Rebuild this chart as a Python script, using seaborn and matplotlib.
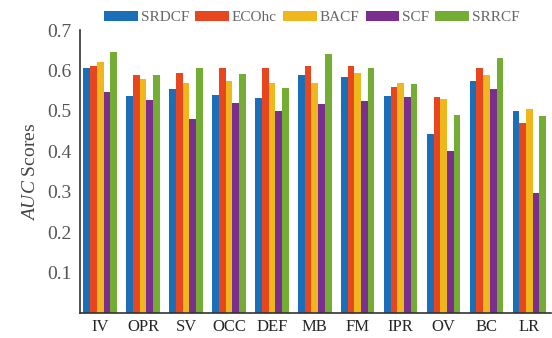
import matplotlib
matplotlib.use("Agg")
import matplotlib.pyplot as plt
import seaborn as sns
import pandas as pd
import numpy as np

# attributes on the x axis
attrs = ['IV', 'OPR', 'SV', 'OCC', 'DEF', 'MB', 'FM', 'IPR', 'OV', 'BC', 'LR']
trackers = ['SRDCF', 'ECOhc', 'BACF', 'SCF', 'SRRCF']

# AUC scores
srdcf = [0.605, 0.538, 0.553, 0.540, 0.533, 0.590, 0.585, 0.538, 0.444, 0.575, 0.500]
ecohc = [0.610, 0.590, 0.595, 0.607, 0.605, 0.610, 0.610, 0.558, 0.534, 0.607, 0.470]
bacf  = [0.620, 0.580, 0.570, 0.575, 0.568, 0.570, 0.595, 0.570, 0.530, 0.590, 0.505]
scf   = [0.546, 0.526, 0.480, 0.520, 0.500, 0.518, 0.524, 0.534, 0.400, 0.553, 0.297]
srrcf = [0.645, 0.590, 0.607, 0.592, 0.557, 0.640, 0.605, 0.567, 0.490, 0.630, 0.487]

colors = ['#1b6fb8', '#e8461e', '#f0b71c', '#7a2f8e', '#73ad34']

series = [srdcf, ecohc, bacf, scf, srrcf]
rows = []
for name, vals in zip(trackers, series):
    for a, v in zip(attrs, vals):
        rows.append({'attr': a, 'tracker': name, 'auc': v})
df = pd.DataFrame(rows)

sns.set_style('white')
plt.rcParams['font.family'] = ['Liberation Serif', 'DejaVu Serif']
plt.rcParams['mathtext.fontset'] = 'custom'
plt.rcParams['mathtext.it'] = 'Liberation Serif:italic'

fig = plt.figure(figsize=(5.52, 3.38), dpi=100)
ax = fig.add_axes([0.145, 0.074, 0.853, 0.837])

sns.barplot(data=df, x='attr', y='auc', hue='tracker', hue_order=trackers,
            palette=colors, saturation=1, width=0.78, ax=ax, errorbar=None,
            linewidth=0)

ax.set_ylim(0, 0.7)
ax.set_xlim(-0.47, 10.5)
ax.set_yticks(np.arange(0.1, 0.71, 0.1))
ax.set_yticklabels(['%.1f' % t for t in np.arange(0.1, 0.71, 0.1)], color='#555555')
ax.tick_params(axis='y', direction='in', length=3, labelsize=14, pad=6)
ax.tick_params(axis='x', direction='in', length=2, labelsize=12, pad=4)
ax.set_xlabel('')
ax.set_ylabel(r'$\mathit{AUC}$ Scores', fontsize=14, color='#444444', labelpad=6)

for s in ['top', 'right']:
    ax.spines[s].set_visible(False)
for s in ['left', 'bottom']:
    ax.spines[s].set_color('#333333')
    ax.spines[s].set_linewidth(1.2)

handles, labels = ax.get_legend_handles_labels()
ax.get_legend().remove()
fig.legend(handles, labels, loc='center', bbox_to_anchor=(0.565, 0.948), ncol=5,
           frameon=False, fontsize=11, handlelength=2.2, handleheight=0.7,
           handletextpad=0.2, columnspacing=0.4, labelcolor='#666666')

fig.savefig('out.png', dpi=100)
